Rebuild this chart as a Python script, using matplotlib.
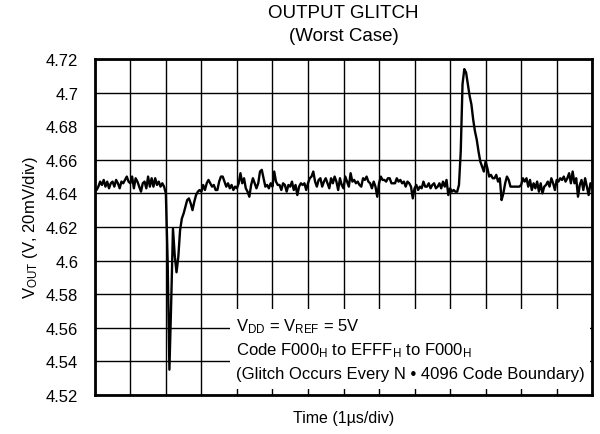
import matplotlib
matplotlib.use("Agg")
import matplotlib.pyplot as plt
import numpy as np
from matplotlib.patches import Rectangle

plt.rcParams.update({
    "font.family": ["Liberation Sans", "DejaVu Sans"],
    "font.size": 12,
    "mathtext.fontset": "custom",
    "mathtext.rm": "Liberation Sans",
    "mathtext.it": "Liberation Sans",
    "mathtext.default": "regular",
})

# scope trace, sampled every 0.05 div (1 us/div), one row per division
t_step = 0.05
v_out = [
    # div 0
    4.642, 4.642, 4.644, 4.647, 4.645, 4.648, 4.644, 4.647, 4.643, 4.646,
    4.647, 4.644, 4.648, 4.646, 4.643, 4.647, 4.646, 4.648, 4.650, 4.647,
    # div 1
    4.646, 4.650, 4.643, 4.649, 4.647, 4.644, 4.641, 4.646, 4.647, 4.643,
    4.650, 4.644, 4.649, 4.644, 4.649, 4.645, 4.647, 4.644, 4.646, 4.644,
    # div 2 (negative glitch)
    4.640, 4.600, 4.535, 4.575, 4.619, 4.603, 4.593, 4.602, 4.618, 4.625,
    4.628, 4.632, 4.636, 4.637, 4.634, 4.630, 4.635, 4.639, 4.641, 4.642,
    # div 3
    4.641, 4.645, 4.642, 4.646, 4.648, 4.646, 4.644, 4.645, 4.642, 4.642,
    4.647, 4.650, 4.650, 4.647, 4.644, 4.646, 4.643, 4.645, 4.642, 4.644,
    # div 4
    4.643, 4.646, 4.652, 4.646, 4.649, 4.643, 4.641, 4.638, 4.645, 4.649,
    4.646, 4.643, 4.646, 4.653, 4.654, 4.649, 4.644, 4.645, 4.643, 4.646,
    # div 5
    4.644, 4.653, 4.647, 4.645, 4.645, 4.642, 4.646, 4.645, 4.641, 4.645,
    4.644, 4.647, 4.642, 4.645, 4.639, 4.644, 4.646, 4.645, 4.646, 4.642,
    # div 6
    4.646, 4.649, 4.650, 4.653, 4.647, 4.644, 4.648, 4.649, 4.644, 4.647,
    4.649, 4.646, 4.643, 4.649, 4.646, 4.650, 4.647, 4.642, 4.649, 4.645,
    # div 7
    4.643, 4.650, 4.647, 4.644, 4.652, 4.647, 4.648, 4.646, 4.647, 4.645,
    4.644, 4.649, 4.648, 4.650, 4.647, 4.646, 4.643, 4.647, 4.644, 4.638,
    # div 8
    4.646, 4.650, 4.648, 4.648, 4.647, 4.649, 4.649, 4.646, 4.646, 4.646,
    4.649, 4.647, 4.648, 4.646, 4.647, 4.644, 4.647, 4.646, 4.644, 4.637,
    # div 9
    4.643, 4.645, 4.642, 4.644, 4.643, 4.647, 4.644, 4.644, 4.646, 4.643,
    4.645, 4.646, 4.643, 4.644, 4.646, 4.643, 4.647, 4.644, 4.648, 4.639,
    # div 10 (positive glitch)
    4.643, 4.641, 4.642, 4.641, 4.641, 4.645, 4.665, 4.705, 4.714, 4.712,
    4.705, 4.698, 4.693, 4.684, 4.677, 4.672, 4.665, 4.659, 4.656, 4.653,
    # div 11
    4.659, 4.655, 4.650, 4.651, 4.649, 4.649, 4.651, 4.647, 4.649, 4.636,
    4.640, 4.646, 4.650, 4.648, 4.644, 4.644, 4.644, 4.644, 4.644, 4.644,
    # div 12
    4.645, 4.649, 4.647, 4.649, 4.644, 4.648, 4.642, 4.646, 4.643, 4.647,
    4.641, 4.646, 4.640, 4.644, 4.645, 4.647, 4.644, 4.649, 4.646, 4.642,
    # div 13
    4.648, 4.647, 4.649, 4.648, 4.650, 4.647, 4.649, 4.652, 4.646, 4.653,
    4.646, 4.649, 4.638, 4.645, 4.648, 4.642, 4.649, 4.644, 4.639, 4.646,
    # end
    4.643,
]
time_us = np.arange(len(v_out)) * t_step

y_ticks = [4.52, 4.54, 4.56, 4.58, 4.60, 4.62, 4.64, 4.66, 4.68, 4.70, 4.72]
y_tick_labels = ["4.52", "4.54", "4.56", "4.58", "4.6", "4.62", "4.64",
                 "4.66", "4.68", "4.7", "4.72"]
x_divs = np.arange(0, 15)

note_lines = [
    r"V$_{DD}$ = V$_{REF}$ = 5V",
    r"Code F000$_H$ to EFFF$_H$ to F000$_H$",
    "(Glitch Occurs Every N \u2022 4096 Code Boundary)",
]

fig = plt.figure(figsize=(6.0, 4.35), dpi=100)
ax = fig.add_axes([0.158, 0.090, 0.829, 0.772])

ax.plot(time_us, v_out, color="black", linewidth=1.7, zorder=3)

ax.set_xlim(0, 14)
ax.set_ylim(4.52, 4.72)
ax.set_xticks(x_divs)
ax.set_xticklabels([])
ax.set_yticks(y_ticks)
ax.set_yticklabels(y_tick_labels)
ax.tick_params(axis="both", length=0, pad=12, labelsize=12)
ax.set_axisbelow(True)
ax.grid(True, color="black", linewidth=1.0)
for side in ax.spines.values():
    side.set_linewidth(2.0)
    side.set_color("black")

# white box behind the note
ax.add_patch(Rectangle((3.8, 4.5236), 10.13, 0.0474, facecolor="white",
                       edgecolor="none", zorder=1))
for i, line in enumerate(note_lines):
    ax.text(3.97, 4.5587 - i * 0.01429, line, ha="left", va="baseline",
            fontsize=12, zorder=4)

ax.set_ylabel(r"V$_{OUT}$ (V, 20mV/div)", labelpad=4, fontsize=12)
fig.text(0.5725, 0.039, "Time (1\u00b5s/div)", ha="center", va="center",
         fontsize=11.5)
fig.text(0.5725, 0.970, "OUTPUT GLITCH", ha="center", va="center", fontsize=13.5)
fig.text(0.5725, 0.915, "(Worst Case)", ha="center", va="center", fontsize=13.5)

fig.savefig("out.png", dpi=100)
